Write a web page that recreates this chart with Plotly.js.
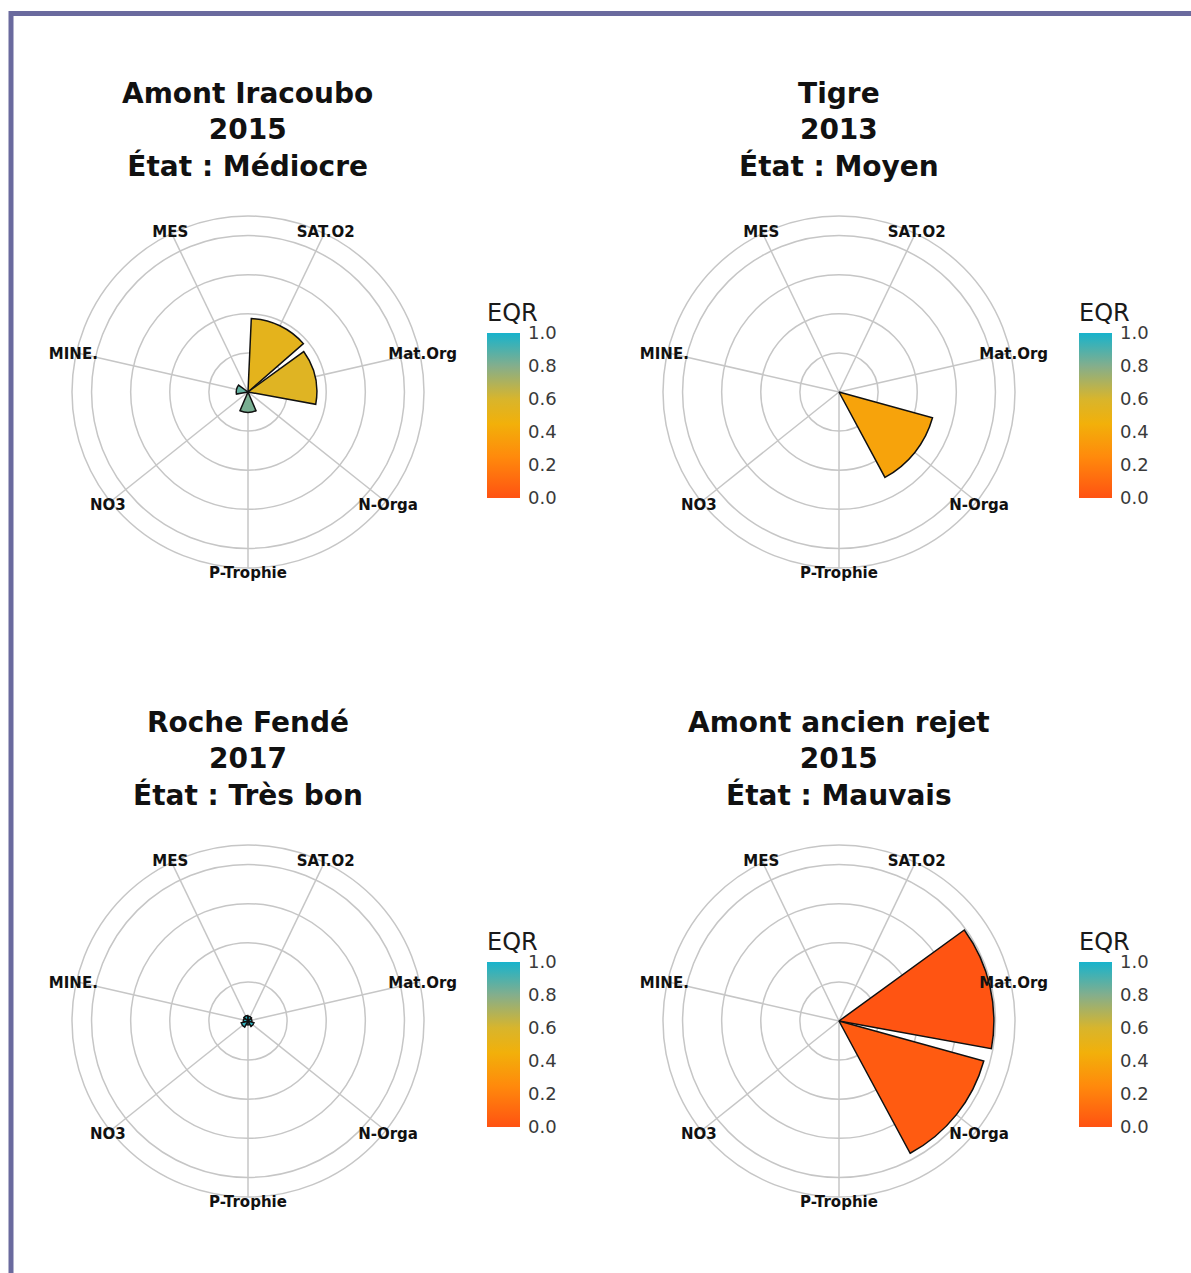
<!DOCTYPE html>
<html>
<head>
<meta charset="utf-8">
<script src="https://cdn.plot.ly/plotly-3.0.1.min.js"></script>
<style>
html, body { margin: 0; padding: 0; background: #ffffff; }
#chart { width: 1191px; height: 1273px; }
</style>
</head>
<body>
<div id="chart"></div>
<script>
// ---- Data ----
const categories = ['MES', 'SAT.O2', 'Mat.Org', 'N-Orga', 'P-Trophie', 'NO3', 'MINE.'];

const titleIracoubo = 'Amont Iracoubo<br>2015<br>État : Médiocre';
const titleTigre = 'Tigre<br>2013<br>État : Moyen';
const titleRoche = 'Roche Fendé<br>2017<br>État : Très bon';
const titleRejet = 'Amont ancien rejet<br>2015<br>État : Mauvais';

// bar length (radial value) per category
const barIracoubo = [0, 0.47, 0.44, 0, 0.13, 0, 0.075];
const barTigre    = [0, 0, 0, 0.62, 0, 0, 0];
const barRoche    = [0.035, 0.03, 0.025, 0.04, 0.025, 0.045, 0.03];
const barRejet    = [0, 0, 0.99, 0.96, 0, 0, 0];

// EQR (fill colour) per category
const eqrIracoubo = [1, 0.53, 0.56, 1, 0.82, 1, 0.86];
const eqrTigre    = [1, 1, 1, 0.38, 1, 1, 1];
const eqrRoche    = [0.96, 0.97, 0.97, 0.96, 0.97, 0.95, 0.97];
const eqrRejet    = [1, 1, 0.01, 0.04, 1, 1, 1];

const colorbarTicks = [0, 0.2, 0.4, 0.6, 0.8, 1.0];
const colorbarTickText = ['0.0', '0.2', '0.4', '0.6', '0.8', '1.0'];
const radialGrid = [0.25, 0.5, 0.75, 1.0];

// ---- Styling ----
const W = 1191, H = 1273;
const FONT = 'DejaVu Sans, Liberation Sans, Arial, sans-serif';
const GRID = '#c6c6c6';
const RMAX = 1.125;          // radial range of the data discs
const LABEL_R = 1.145;       // radial position of category labels (centred, ggplot-like)
const LABEL_RMAX = 1.25;     // radial range of the transparent label overlay
const eqrScale = [
  [0.0, '#FF5212'],
  [0.25, '#FF8A0C'],
  [0.45, '#F2B00A'],
  [0.6, '#D8B52C'],
  [0.8, '#84AE8C'],
  [1.0, '#17B3CC']
];

function px2x(p) { return p / W; }
function px2y(p) { return (H - p) / H; }

// panel geometry (pixel centres of the polar discs)
const R = 176;
const panels = [
  { cx: 248, cy: 392, bar: barIracoubo, eqr: eqrIracoubo, title: titleIracoubo, cbx: 487 },
  { cx: 839, cy: 392, bar: barTigre,    eqr: eqrTigre,    title: titleTigre,    cbx: 1079 },
  { cx: 248, cy: 1021, bar: barRoche,   eqr: eqrRoche,    title: titleRoche,    cbx: 487 },
  { cx: 839, cy: 1021, bar: barRejet,   eqr: eqrRejet,    title: titleRejet,    cbx: 1079 }
];
const rowTitleY = [130, 759];
const rowCbY = [399, 1028];

// overlay radius in px so that LABEL_R lands at the same scale as the data disc
const pxPerUnit = R / RMAX;
const ROV = LABEL_RMAX * pxPerUnit;
const LABEL_DY = 3;          // small downward nudge of the label ring

const traces = [];
const layout = {
  width: W, height: H,
  margin: { l: 0, r: 0, t: 0, b: 0 },
  paper_bgcolor: '#ffffff',
  font: { family: FONT, color: '#1a1a1a' },
  showlegend: false,
  annotations: [],
  shapes: [{
    type: 'rect', xref: 'paper', yref: 'paper',
    x0: px2x(11), x1: 1.05, y0: -0.05, y1: px2y(13.5),
    line: { color: '#6A6A9E', width: 5 },
    fillcolor: 'rgba(0,0,0,0)', layer: 'above'
  }]
};

const angularBase = {
  type: 'category', categoryorder: 'array', categoryarray: categories,
  direction: 'clockwise', rotation: 90 + 180 / 7
};

panels.forEach((p, i) => {
  const key = i === 0 ? 'polar' : 'polar' + (i + 1);
  const keyOv = 'polar' + (i + 5);
  const row = i < 2 ? 0 : 1;
  layout[key] = {
    domain: { x: [px2x(p.cx - R), px2x(p.cx + R)], y: [px2y(p.cy + R), px2y(p.cy - R)] },
    bgcolor: '#ffffff',
    radialaxis: {
      range: [0, RMAX], tickvals: radialGrid, showticklabels: false, ticks: '',
      showline: false, gridcolor: GRID, gridwidth: 1.5
    },
    angularaxis: Object.assign({}, angularBase, {
      showline: true, linecolor: GRID, linewidth: 1.5,
      showgrid: true, gridcolor: GRID, gridwidth: 1.5,
      ticks: '', showticklabels: false
    })
  };
  // transparent overlay disc that only carries the category labels
  const ocy = p.cy + LABEL_DY;
  layout[keyOv] = {
    domain: { x: [px2x(p.cx - ROV), px2x(p.cx + ROV)], y: [px2y(ocy + ROV), px2y(ocy - ROV)] },
    bgcolor: 'rgba(0,0,0,0)',
    radialaxis: { range: [0, LABEL_RMAX], visible: false },
    angularaxis: Object.assign({}, angularBase, {
      showline: false, showgrid: false, ticks: '', showticklabels: false
    })
  };
  traces.push({
    type: 'barpolar',
    subplot: key,
    theta: categories,
    r: p.bar,
    width: 0.9,
    marker: {
      color: p.eqr, colorscale: eqrScale, cmin: 0, cmax: 1,
      line: { color: '#111111', width: 1.5 },
      showscale: true,
      colorbar: {
        x: px2x(p.cbx), xanchor: 'left', xpad: 0,
        y: px2y(rowCbY[row]), yanchor: 'middle', ypad: 0,
        len: 198, lenmode: 'pixels', thickness: 33, thicknessmode: 'pixels',
        outlinewidth: 0,
        tickvals: colorbarTicks, ticktext: colorbarTickText,
        ticks: 'outside', tickcolor: '#ffffff', ticklen: 5, tickwidth: 1,
        tickfont: { family: FONT, size: 18, color: '#3a3a3a' },
        title: { text: 'EQR', side: 'top', font: { family: FONT, size: 24, color: '#1a1a1a' } }
      }
    },
    hoverinfo: 'skip'
  });
  traces.push({
    type: 'scatterpolar',
    subplot: keyOv,
    mode: 'text',
    theta: categories,
    r: categories.map(() => LABEL_R),
    text: categories,
    textposition: 'middle center',
    textfont: { family: FONT, size: 15, color: '#111111', weight: 'bold' },
    cliponaxis: false,
    hoverinfo: 'skip',
    showlegend: false
  });
  layout.annotations.push({
    xref: 'paper', yref: 'paper',
    x: px2x(p.cx), y: px2y(rowTitleY[row]),
    xanchor: 'center', yanchor: 'middle',
    text: '<b>' + p.title + '</b>', showarrow: false, align: 'center',
    font: { family: FONT, size: 28, color: '#111111' }
  });
});

Plotly.newPlot('chart', traces, layout, { staticPlot: true, displayModeBar: false });
</script>
</body>
</html>
